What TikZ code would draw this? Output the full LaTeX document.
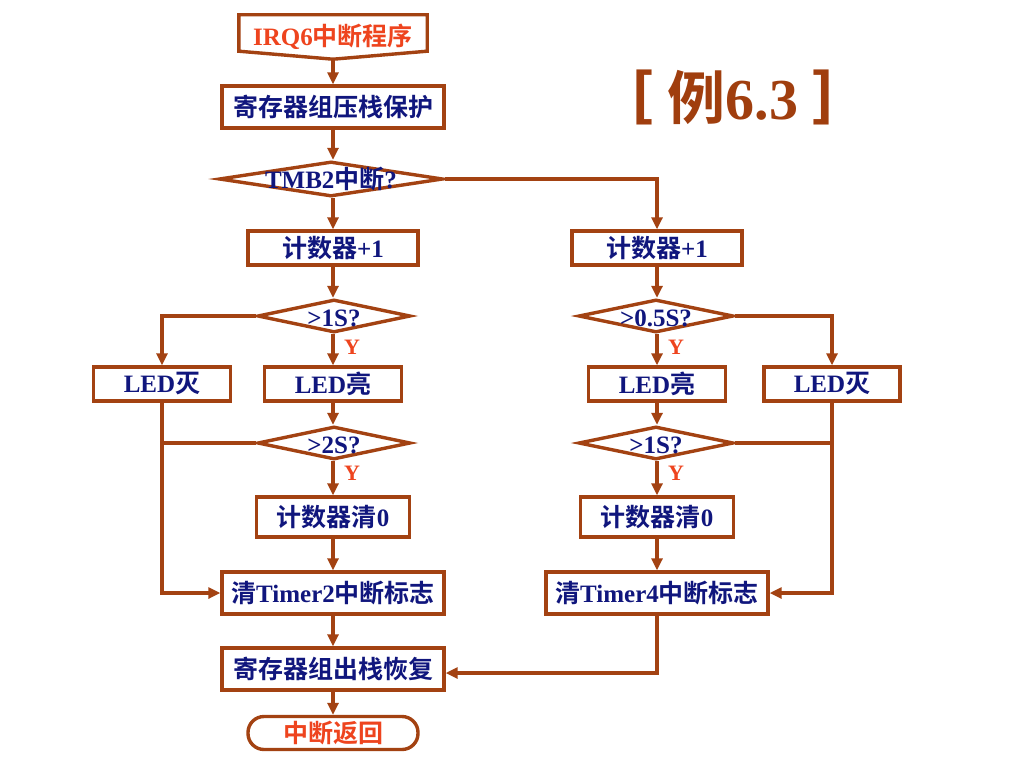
\documentclass[tikz,border=0pt]{standalone}
\usepackage{fontspec}
\setmainfont{Liberation Serif}
\newfontfamily\cjk{Noto Sans CJK SC Bold}
\newfontfamily\cjklight{Noto Sans CJK SC}
\usetikzlibrary{arrows.meta,shapes.geometric}
\definecolor{brd}{RGB}{163,66,18}
\definecolor{txt}{RGB}{16,22,125}
\definecolor{hot}{RGB}{238,68,30}
\definecolor{ttl}{RGB}{160,62,14}
\newcommand\zh[1]{{\cjk\mdseries #1}}
\begin{document}
\begin{tikzpicture}[x=1pt,y=-1pt,
  every node/.style={inner sep=0pt},
  mainfont/.style={font=\fontsize{25}{28}\selectfont\bfseries},
  box/.style={rectangle,draw=brd,line width=3.4pt,fill=white,text=txt,mainfont},
  dia/.style={diamond,draw=brd,line width=3.4pt,fill=white},
  dtext/.style={text=txt,mainfont},
  ylab/.style={text=hot,font=\fontsize{22}{24}\selectfont\bfseries},
  conn/.style={draw=brd,line width=3.4pt,-{Triangle[length=12pt,width=11pt]}},
  ln/.style={draw=brd,line width=3.4pt}]
\useasboundingbox (0,0) rectangle (1024,768);
\fill[white] (0,0) rectangle (1024,768);

% title
\node[text=ttl,font=\fontsize{58}{62}\selectfont\bfseries] (title) at (733,97)
  {{\cjklight ［}\hspace{14pt}\zh{例}6.3\hspace{14pt}{\cjklight ］}};

% main column
\node[text=hot,mainfont,minimum width=188,minimum height=44] (irq) at (333,37) {IRQ6\zh{中断程序}};
\draw[ln,line join=miter] (irq.north west) -- (irq.north east) -- ([yshift=8pt]irq.south east)
  -- (irq.south) -- ([yshift=8pt]irq.south west) -- cycle;
\node[box,minimum width=222,minimum height=42] (push) at (333,107) {\zh{寄存器组压栈保护}};
\node[dia,minimum width=224,minimum height=35,label={[dtext]center:TMB2\zh{中断}?}] (tmb) at (331,179) {};
\node[box,minimum width=170,minimum height=34] (cnt1) at (333,248) {\zh{计数器}+1};
\node[dia,minimum width=153,minimum height=33,label={[dtext,yshift=-2pt]center:{>1S?}}] (d1) at (334,316) {};
\node[box,minimum width=137,minimum height=34] (offL) at (162,384) {LED\zh{灭}};
\node[box,minimum width=137,minimum height=34] (onL) at (333,384) {LED\zh{亮}};
\node[dia,minimum width=153,minimum height=33,label={[dtext,yshift=-2pt]center:{>2S?}}] (d2) at (334,443) {};
\node[box,minimum width=153,minimum height=40] (clr1) at (333,517) {\zh{计数器清}0};
\node[box,minimum width=222,minimum height=42] (t2) at (333,593) {\zh{清}Timer2\zh{中断标志}};
\node[box,minimum width=222,minimum height=42] (pop) at (333,669) {\zh{寄存器组出栈恢复}};
\node[rectangle,rounded corners=16pt,draw=brd,line width=3.4pt,fill=white,text=hot,mainfont,
  minimum width=170,minimum height=33] (ret) at (333,733) {\zh{中断返回}};

% right column
\node[box,minimum width=170,minimum height=34] (cntR) at (657,248) {\zh{计数器}+1};
\node[dia,minimum width=155,minimum height=33,label={[dtext,yshift=-2pt]center:{>0.5S?}}] (r1) at (656,316) {};
\node[box,minimum width=137,minimum height=34] (onR) at (657,384) {LED\zh{亮}};
\node[box,minimum width=136,minimum height=34] (offR) at (832,384) {LED\zh{灭}};
\node[dia,minimum width=155,minimum height=33,label={[dtext,yshift=-2pt]center:{>1S?}}] (r2) at (656,443) {};
\node[box,minimum width=153,minimum height=40] (clrR) at (657,517) {\zh{计数器清}0};
\node[box,minimum width=222,minimum height=42] (t4) at (657,593) {\zh{清}Timer4\zh{中断标志}};

% Y labels
\node[ylab] (y1) at (352,347) {Y};
\node[ylab] (y2) at (352,473) {Y};
\node[ylab] (y3) at (676,347) {Y};
\node[ylab] (y4) at (676,473) {Y};

% connectors main
\draw[conn] (irq.south) -- (push.north);
\draw[conn] (push.south) -- (push.south |- tmb.north);
\draw[conn] (tmb.south -| push.south) -- (cnt1.north);
\draw[conn] (tmb.east) -| (cntR.north);
\draw[conn] (cnt1.south) -- (cnt1.south |- d1.north);
\draw[conn] (d1.south -| onL.north) -- (onL.north);
\draw[conn] (d1.west) -| (offL.north);
\draw[conn] (onL.south) -- (onL.south |- d2.north);
\coordinate (jL) at (d2.west -| offL.south);
\draw[ln] (d2.west) -- (jL);
\draw[conn] (d2.south -| clr1.north) -- (clr1.north);
\draw[conn] (clr1.south) -- (t2.north);
\draw[conn] (offL.south) |- (t2.west);
\draw[conn] (t2.south) -- (pop.north);
\draw[conn] (pop.south) -- (ret.north);

% connectors right
\draw[conn] (cntR.south) -- (cntR.south |- r1.north);
\draw[conn] (r1.south -| onR.north) -- (onR.north);
\draw[conn] (r1.east) -| (offR.north);
\draw[conn] (onR.south) -- (onR.south |- r2.north);
\coordinate (jR) at (r2.east -| offR.south);
\draw[ln] (r2.east) -- (jR);
\draw[conn] (r2.south -| clrR.north) -- (clrR.north);
\draw[conn] (clrR.south) -- (t4.north);
\draw[conn] (offR.south) |- (t4.east);
\draw[conn] (t4.south) |- ([yshift=-4pt]pop.east);
\end{tikzpicture}
\end{document}
